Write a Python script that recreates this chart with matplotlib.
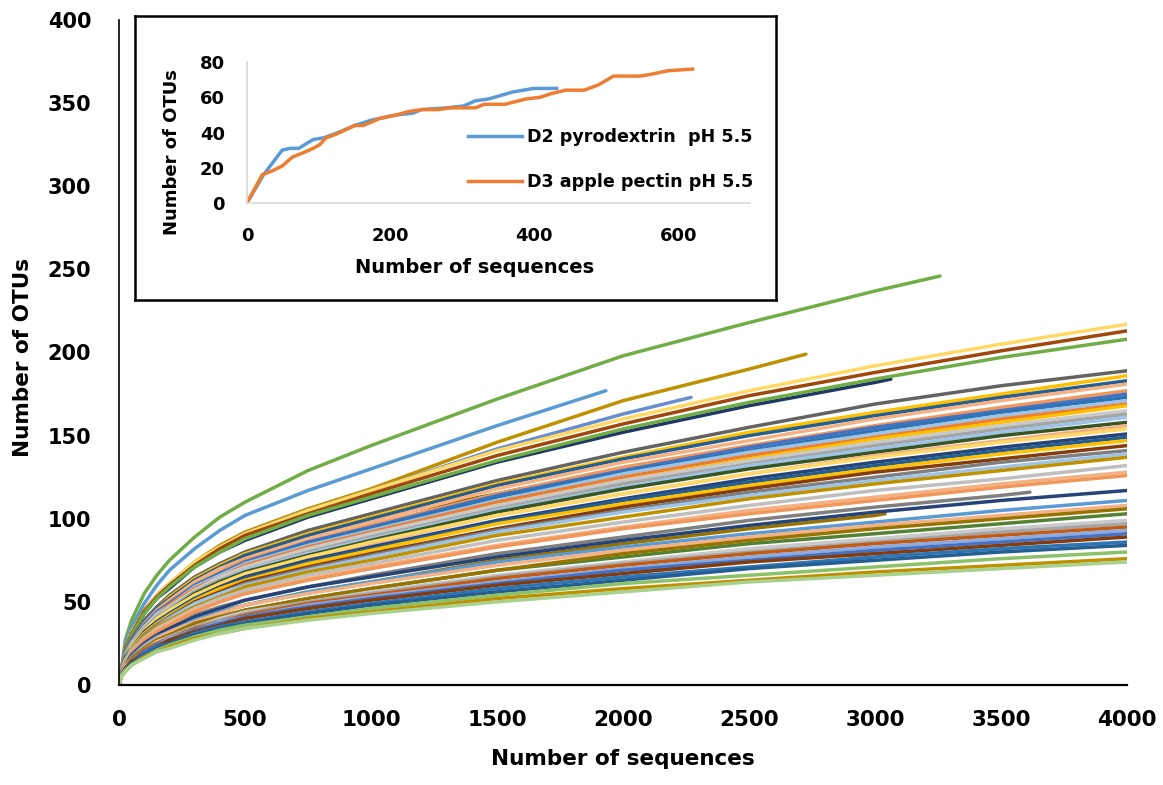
import matplotlib.pyplot as plt

plt.rcParams['font.family'] = ['DejaVu Sans']
plt.rcParams['font.weight'] = 'bold'

# sampling depths (number of sequences) where each rarefaction curve is read
SEQ_X = [0, 10, 25, 50, 100, 150, 200, 300, 400, 500, 750, 1000, 1500, 2000, 2500, 3000, 3500, 4000]

# one entry per sample: colour, last depth reached, OTUs at SEQ_X (< end) + at end
CURVE_COLORS = [
    '#70AD47', '#5B9BD5', '#BF9000', '#698ED0', '#203864', '#7F7F7F', '#7F6000', '#C9C9C9', '#997300',
    '#FFD966', '#9E480E', '#70AD47', '#636363', '#FFC000', '#255E91', '#F4B183', '#F1975A',
    '#4472C4', '#2E75B6', '#9DC3E6', '#ED7D31', '#FFC000', '#C9C9C9', '#A5A5A5', '#9DC3E6',
    '#375623', '#F4B183', '#FFD966', '#264478', '#255E91', '#FFC000', '#843C0C', '#7F7F7F',
    '#9DC3E6', '#BF9000', '#BFBFBF', '#F4B183', '#F1975A', '#264478', '#5B9BD5', '#F4B183',
    '#548235', '#997300', '#C9C9C9', '#A5A5A5', '#C55A11', '#8FAADC', '#4472C4', '#843C0C',
    '#2E75B6', '#255E91', '#8CC168', '#BF9000', '#A9D18E',
]
CURVE_END = [
    3258, 1932, 2726, 2270, 3063, 3615, 1595, 3853, 3040,
    4000, 4000, 4000, 4000, 4000, 4000, 4000, 4000,
    4000, 4000, 4000, 4000, 4000, 4000, 4000, 4000,
    4000, 4000, 4000, 4000, 4000, 4000, 4000, 4000,
    4000, 4000, 4000, 4000, 4000, 4000, 4000, 4000,
    4000, 4000, 4000, 4000, 4000, 4000, 4000, 4000,
    4000, 4000, 4000, 4000, 4000,
]
CURVE_OTUS = [
    [0, 9, 27, 39, 55, 66, 75, 89, 101, 110, 129, 144, 172, 198, 218, 237, 246],
    [0, 9, 25, 35, 49, 60, 69, 82, 93, 102, 117, 130, 156, 177],
    [0, 9, 22, 32, 45, 54, 61, 74, 84, 92, 106, 118, 146, 171, 190, 199],
    [0, 9, 22, 32, 44, 54, 61, 73, 83, 91, 105, 117, 142, 163, 173],
    [0, 9, 21, 30, 43, 52, 58, 71, 80, 87, 101, 112, 134, 152, 168, 182, 184],
    [0, 8, 13, 18, 25, 30, 34, 42, 47, 51, 59, 66, 79, 89, 99, 107, 114, 116],
    [0, 9, 19, 27, 38, 46, 52, 63, 71, 78, 90, 100, 115, 118],
    [0, 9, 18, 26, 36, 44, 49, 60, 67, 74, 86, 95, 114, 130, 143, 155, 166, 174],
    [0, 7, 12, 17, 24, 29, 32, 39, 44, 48, 56, 62, 75, 85, 94, 102, 103],
    [0, 9, 22, 32, 44, 54, 61, 74, 83, 91, 105, 117, 141, 160, 177, 192, 205, 217],
    [0, 9, 22, 31, 44, 53, 60, 72, 82, 90, 103, 115, 138, 157, 174, 188, 201, 213],
    [0, 9, 21, 30, 43, 52, 59, 71, 80, 88, 102, 113, 135, 154, 170, 184, 197, 208],
    [0, 9, 20, 28, 39, 47, 54, 65, 73, 80, 93, 103, 123, 140, 155, 169, 180, 189],
    [0, 9, 19, 27, 38, 46, 53, 64, 72, 79, 91, 101, 121, 137, 152, 164, 175, 186],
    [0, 9, 19, 27, 38, 46, 52, 63, 71, 78, 90, 100, 120, 136, 150, 162, 173, 183],
    [0, 9, 19, 26, 37, 45, 51, 62, 70, 76, 88, 98, 118, 134, 147, 160, 171, 181],
    [0, 9, 18, 26, 36, 44, 50, 60, 68, 75, 86, 96, 115, 131, 144, 156, 167, 177],
    [0, 9, 18, 26, 36, 44, 49, 60, 67, 74, 86, 95, 114, 129, 143, 155, 165, 175],
    [0, 9, 18, 25, 36, 43, 49, 59, 67, 73, 85, 94, 113, 128, 141, 153, 164, 173],
    [0, 9, 18, 25, 35, 43, 48, 59, 66, 73, 84, 93, 111, 127, 140, 151, 162, 171],
    [0, 9, 17, 25, 35, 42, 48, 58, 65, 72, 83, 92, 110, 125, 138, 149, 160, 169],
    [0, 9, 17, 24, 34, 41, 47, 57, 64, 70, 81, 90, 108, 123, 136, 148, 158, 168],
    [0, 9, 17, 25, 35, 42, 47, 57, 65, 71, 82, 91, 108, 123, 135, 146, 156, 165],
    [0, 9, 17, 24, 34, 41, 46, 56, 63, 69, 80, 89, 106, 121, 133, 144, 154, 163],
    [0, 9, 17, 24, 33, 40, 46, 55, 62, 69, 79, 88, 105, 119, 132, 142, 152, 161],
    [0, 9, 17, 23, 33, 40, 45, 55, 62, 68, 78, 87, 104, 118, 130, 140, 150, 158],
    [0, 9, 16, 23, 32, 39, 44, 54, 60, 66, 77, 85, 102, 115, 127, 138, 147, 156],
    [0, 9, 16, 23, 33, 40, 45, 54, 61, 67, 77, 86, 102, 115, 127, 137, 146, 154],
    [0, 9, 16, 22, 32, 38, 43, 52, 59, 65, 75, 83, 99, 112, 124, 134, 143, 151],
    [0, 9, 16, 22, 31, 38, 43, 52, 58, 64, 74, 82, 98, 111, 122, 132, 141, 149],
    [0, 9, 15, 22, 31, 37, 42, 51, 58, 63, 73, 81, 97, 109, 120, 130, 139, 147],
    [0, 9, 15, 21, 30, 36, 41, 50, 56, 62, 71, 79, 94, 107, 118, 128, 136, 144],
    [0, 9, 15, 21, 30, 36, 41, 49, 55, 61, 70, 78, 93, 105, 116, 125, 134, 141],
    [0, 9, 15, 21, 29, 35, 40, 49, 55, 60, 69, 77, 92, 104, 114, 123, 131, 139],
    [0, 9, 14, 20, 29, 35, 39, 47, 53, 59, 68, 75, 90, 101, 112, 121, 129, 137],
    [0, 9, 14, 20, 28, 34, 38, 46, 52, 57, 66, 73, 87, 98, 108, 117, 124, 132],
    [0, 9, 13, 19, 27, 33, 37, 45, 50, 55, 64, 71, 84, 95, 105, 113, 121, 128],
    [0, 8, 13, 19, 27, 32, 36, 44, 50, 55, 63, 70, 83, 94, 103, 111, 119, 126],
    [0, 8, 12, 18, 25, 30, 34, 41, 46, 51, 59, 65, 77, 87, 96, 104, 111, 117],
    [0, 7, 12, 17, 24, 29, 32, 39, 44, 48, 56, 62, 74, 83, 91, 98, 105, 111],
    [0, 7, 12, 16, 23, 28, 32, 38, 43, 48, 55, 61, 72, 81, 89, 96, 102, 108],
    [0, 7, 11, 16, 22, 27, 30, 37, 41, 45, 52, 58, 69, 77, 85, 91, 97, 103],
    [0, 7, 11, 16, 22, 27, 30, 37, 41, 45, 52, 58, 69, 79, 87, 94, 100, 106],
    [0, 7, 11, 15, 21, 26, 29, 35, 40, 44, 50, 56, 66, 74, 82, 88, 94, 99],
    [0, 7, 10, 15, 21, 25, 29, 35, 39, 43, 50, 55, 65, 73, 80, 86, 92, 97],
    [0, 6, 10, 15, 21, 25, 28, 34, 38, 42, 49, 54, 64, 72, 79, 85, 90, 95],
    [0, 6, 10, 14, 20, 24, 28, 33, 38, 41, 48, 53, 62, 70, 77, 83, 88, 93],
    [0, 6, 10, 14, 20, 24, 27, 33, 37, 41, 47, 52, 61, 69, 75, 81, 86, 91],
    [0, 6, 10, 14, 19, 23, 27, 32, 36, 40, 46, 51, 60, 67, 74, 79, 84, 89],
    [0, 6, 9, 13, 19, 23, 25, 31, 35, 38, 44, 49, 58, 65, 71, 77, 82, 86],
    [0, 6, 9, 13, 18, 22, 25, 30, 34, 37, 43, 48, 56, 63, 70, 75, 80, 84],
    [0, 6, 9, 12, 17, 21, 24, 29, 33, 36, 41, 46, 54, 61, 66, 71, 76, 80],
    [0, 5, 8, 12, 17, 20, 23, 28, 31, 34, 40, 44, 52, 58, 63, 68, 72, 76],
    [0, 5, 8, 12, 16, 20, 22, 27, 31, 34, 39, 43, 50, 56, 62, 66, 70, 74],
]

# inset: two samples with low coverage
D2_X = [0, 23, 49, 60, 72, 92, 107, 127, 150, 173, 208, 231, 243, 278, 301, 318, 336, 353, 370, 399, 431]
D2_Y = [0, 16, 30, 31, 31, 36, 37, 40, 44, 47, 50, 51, 53, 54, 55, 58, 59, 61, 63, 65, 65]
D3_X = [0, 21, 34, 49, 63, 81, 92, 101, 110, 124, 150, 162, 185, 208, 226, 243, 266, 283, 318, 330,
        359, 388, 408, 423, 443, 469, 489, 510, 547, 562, 585, 620]
D3_Y = [0, 16, 18, 21, 26, 29, 31, 33, 37, 39, 44, 44, 48, 50, 52, 53, 53, 54, 54, 56,
        56, 59, 60, 62, 64, 64, 67, 72, 72, 73, 75, 76]
D2_LABEL = 'D2 pyrodextrin  pH 5.5'
D3_LABEL = 'D3 apple pectin pH 5.5'

W, H = 1163, 785
fig = plt.figure(figsize=(W / 100, H / 100), dpi=100)

# main rarefaction plot
ax = fig.add_axes([119 / W, 1 - 685 / H, (1127 - 119) / W, (685 - 20) / H])
for color, end, otus in zip(CURVE_COLORS, CURVE_END, CURVE_OTUS):
    xs = [x for x in SEQ_X if x < end] + [end]
    ax.plot(xs, otus, color=color, lw=2.5, solid_joinstyle='round', solid_capstyle='round')

ax.set_xlim(0, 4000)
ax.set_ylim(0, 400)
ax.set_xticks(range(0, 4001, 500))
ax.set_yticks(range(0, 401, 50))
ax.tick_params(axis='x', length=0, pad=18, labelsize=15.5)
ax.tick_params(axis='y', length=0, pad=20, labelsize=15)
for s in ['top', 'right']:
    ax.spines[s].set_visible(False)
ax.spines['left'].set_linewidth(1.2)
ax.spines['bottom'].set_linewidth(1.6)
ax.set_xlabel('Number of sequences', fontsize=15.5, fontweight='bold', labelpad=14)
ax.set_ylabel('Number of OTUs', fontsize=15.5, fontweight='bold', labelpad=10)
ax.yaxis.set_label_coords(-0.095, 0.492)
ax.yaxis.label.set_va('center')

# inset frame
box = fig.add_axes([135 / W, 1 - 300 / H, (776 - 135) / W, (300 - 16) / H])
box.set_xticks([])
box.set_yticks([])
box.set_facecolor('white')
for s in box.spines.values():
    s.set_linewidth(1.8)
    s.set_color('black')

# inset chart
ins = fig.add_axes([247 / W, 1 - 203 / H, (750 - 247) / W, (203 - 62) / H])
ins.patch.set_alpha(0)
ins.plot(D2_X, D2_Y, color='#5B9BD5', lw=2.5, label=D2_LABEL)
ins.plot(D3_X, D3_Y, color='#ED7D31', lw=2.5, label=D3_LABEL)
ins.set_xlim(0, 700)
ins.set_ylim(0, 80)
ins.set_xticks([0, 200, 400, 600])
ins.set_yticks([0, 20, 40, 60, 80])
ins.tick_params(length=0, labelsize=13)
ins.tick_params(axis='x', pad=17)
ins.tick_params(axis='y', pad=16)
for s in ['top', 'right']:
    ins.spines[s].set_visible(False)
for s in ['left', 'bottom']:
    ins.spines[s].set_color('#D9D9D9')
    ins.spines[s].set_linewidth(1.2)
ins.set_xlabel('Number of sequences', fontsize=14, fontweight='bold')
ins.xaxis.set_label_coords(0.453, -0.39)
ins.set_ylabel('Number of OTUs', fontsize=13, fontweight='bold')
ins.yaxis.set_label_coords(-0.149, 0.36)
ins.yaxis.label.set_va('center')
ins.legend(loc='upper left', bbox_to_anchor=(468 / W, 1 - 128 / H), bbox_transform=fig.transFigure,
           frameon=False, fontsize=12.6, handlelength=3.1, handletextpad=0.25,
           labelspacing=1.55, borderpad=0, borderaxespad=0)

fig.savefig('out.png', dpi=100)
